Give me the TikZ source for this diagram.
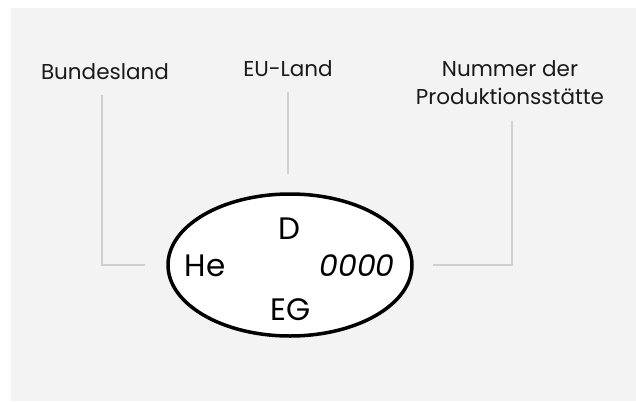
\documentclass[tikz,border=0pt]{standalone}
\usepackage{fontspec}
\setmainfont{Poppins}
\usetikzlibrary{shapes.geometric}
\definecolor{bggray}{HTML}{F3F3F3}
\definecolor{linegray}{HTML}{CFCFCF}
\definecolor{txt}{HTML}{1A1A1A}
\begin{document}
\begin{tikzpicture}[x=1pt,y=-1pt,
  lbl/.style={font=\fontsize{21.5}{28}\selectfont, align=center, inner sep=0pt, text=txt},
  inner/.style={font=\fontsize{31}{34}\selectfont, inner sep=0pt, text=black},
  conn/.style={draw=linegray, line width=2pt},
  oval/.style={ellipse, draw=black, fill=white, line width=3.5pt, minimum width=244pt, minimum height=142pt, inner sep=0pt}]
\useasboundingbox (0,0) rectangle (636,401);
\fill[white] (0,0) rectangle (636,401);
\fill[bggray] (11,8) rectangle (636,401);

\node[lbl] (bl) at (105,72) {Bundesland};
\node[lbl] (eu) at (288,69) {EU-Land};
\node[lbl] (nr) at (510,83) {Nummer der\\Produktionsstätte};

\node[oval] (ov) at (290,265) {};
\node[inner] (d) at (289,229) {D};
\node[inner] (he) at (205,266) {He};
\node[inner, font=\fontsize{30}{34}\selectfont\itshape] (nn) at (357,266) {0000};
\node[inner] (eg) at (291,310) {EG};

\draw[conn] ([shift={(-3,15)}]bl.south) |- ([xshift=-21pt]ov.west);
\draw[conn] ([yshift=-15pt]eu.south) -- ([yshift=18pt]ov.north -| eu.south);
\draw[conn] ([shift={(2,16)}]nr.south) |- ([xshift=19pt]ov.east);
\end{tikzpicture}
\end{document}
